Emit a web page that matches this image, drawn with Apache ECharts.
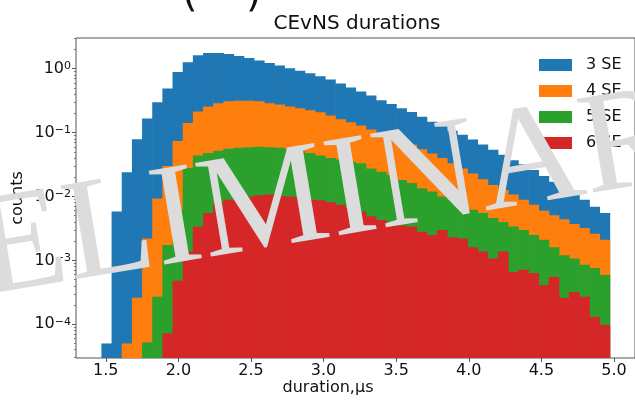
<!DOCTYPE html>
<html>
<head>
<meta charset="utf-8">
<script src="https://cdn.jsdelivr.net/npm/echarts@6/dist/echarts.min.js"></script>
<style>
  html, body { margin: 0; padding: 0; background: #fff; }
  #main { width: 635px; height: 400px; }
</style>
</head>
<body>
<div id="main"></div>
<script>
// histogram binning: 50 bins, 0.07 us wide, first edge at 1.47 us
const binStart = 1.47;
const binWidth = 0.07;
const xTicks = [1.5, 2.0, 2.5, 3.0, 3.5, 4.0, 4.5, 5.0];
const yTicks = [1e-4, 1e-3, 1e-2, 1e-1, 1];
const seriesNames = ['3 SE', '4 SE', '5 SE', '6 SE'];

const se3 = [
  5.0e-5, 5.8e-3, 0.024, 0.079, 0.166, 0.30, 0.49, 0.89, 1.26, 1.62,
  1.76, 1.76, 1.70, 1.58, 1.48, 1.35, 1.23, 1.12, 1.02, 0.93,
  0.85, 0.76, 0.68, 0.59, 0.51, 0.44, 0.38, 0.32, 0.28, 0.24,
  0.21, 0.178, 0.148, 0.129, 0.107, 0.093, 0.078, 0.065, 0.054, 0.045,
  0.037, 0.032, 0.026, 0.021, 0.017, 0.0135, 0.011, 0.0089, 0.0069, 0.0055
];
const se4 = [
  null, null, 5.0e-5, 2.6e-4, 2.2e-3, 9.3e-3, 0.030, 0.074, 0.141, 0.214,
  0.257, 0.288, 0.309, 0.316, 0.316, 0.309, 0.288, 0.275, 0.257, 0.240,
  0.224, 0.209, 0.186, 0.162, 0.145, 0.129, 0.112, 0.098, 0.087, 0.076,
  0.065, 0.055, 0.047, 0.040, 0.033, 0.0275, 0.0229, 0.0186, 0.0151, 0.0126,
  0.0107, 0.0089, 0.0074, 0.0060, 0.0051, 0.0044, 0.0037, 0.0032, 0.0026, 0.0021
];
const se5 = [
  null, null, null, null, 5.2e-5, 2.7e-4, 1.74e-3, 6.2e-3, 0.028, 0.044,
  0.048, 0.052, 0.056, 0.058, 0.059, 0.060, 0.059, 0.058, 0.055, 0.051,
  0.048, 0.044, 0.040, 0.038, 0.035, 0.033, 0.0275, 0.0245, 0.0219, 0.0182,
  0.0162, 0.0135, 0.0120, 0.0100, 0.0089, 0.0074, 0.0062, 0.0055, 0.0046, 0.0040,
  0.0034, 0.0030, 0.0025, 0.0021, 0.0016, 0.0012, 0.00107, 0.00085, 0.00076, 0.00059
];
const se6 = [
  null, null, null, null, null, null, 7.2e-5, 4.8e-4, 1.38e-3, 3.4e-3,
  5.5e-3, 7.9e-3, 8.9e-3, 9.5e-3, 0.0100, 0.0105, 0.0107, 0.0102, 0.0100, 0.0095,
  0.0089, 0.0087, 0.0081, 0.0074, 0.0066, 0.0058, 0.0049, 0.0043, 0.0038, 0.0035,
  0.0034, 0.0028, 0.0025, 0.0030, 0.0023, 0.0022, 0.0016, 0.00138, 0.00107, 0.00138,
  0.00066, 0.00071, 0.00063, 0.00041, 0.00055, 0.00026, 0.00032, 0.00027, 0.00013, 0.000098
];

const colors = ['#1f77b4', '#ff7f0e', '#2ca02c', '#d62728'];
const yMin = 2.96e-5, yMax = 3.03;

// minor log ticks 2..9 x 10^n
const yMinor = [];
for (let e = -5; e <= 0; e++) {
  for (let m = 2; m <= 9; m++) {
    const v = m * Math.pow(10, e);
    if (v > yMin && v < yMax) yMinor.push(v);
  }
}

function toBins(vals) {
  const out = [];
  vals.forEach((v, k) => {
    if (v != null) out.push([binStart + k * binWidth, binStart + (k + 1) * binWidth, v]);
  });
  return out;
}

function renderBin(params, api) {
  const p0 = api.coord([api.value(0), api.value(2)]);
  const p1 = api.coord([api.value(1), yMin]);
  return {
    type: 'rect',
    shape: { x: p0[0], y: p0[1], width: p1[0] - p0[0] + 0.6, height: p1[1] - p0[1] },
    style: { fill: api.visual('color') }
  };
}

const chart = echarts.init(document.getElementById('main'), null, { renderer: 'canvas' });
const font = 'DejaVu Sans';

const supStr = e => (e < 0 ? '\u2212' + (-e) : '' + e);

chart.setOption({
  animation: false,
  color: colors,
  textStyle: { fontFamily: font },
  grid: {
    left: 76, top: 38, width: 562, height: 320,
    show: true, borderColor: '#555', borderWidth: 1, backgroundColor: 'transparent'
  },
  legend: {
    data: seriesNames,
    orient: 'vertical',
    left: 534, top: 52,
    icon: 'rect',
    itemWidth: 33, itemHeight: 12, itemGap: 10,
    textStyle: { fontSize: 16, color: '#111', fontFamily: font, lineHeight: 12, padding: [0, 0, 0, 9] }
  },
  xAxis: {
    type: 'value', min: 1.295, max: 5.145,
    splitLine: { show: false },
    axisLine: { show: false },
    axisTick: { show: true, length: 4, customValues: xTicks, lineStyle: { color: '#555' } },
    axisLabel: {
      customValues: xTicks, margin: 5, fontSize: 16, color: '#111', fontFamily: font,
      formatter: v => v.toFixed(1)
    }
  },
  yAxis: [{
    type: 'log', logBase: 10, min: yMin, max: yMax,
    splitLine: { show: false },
    axisLine: { show: false },
    axisTick: { show: true, length: 4, customValues: yTicks, lineStyle: { color: '#555' } },
    axisLabel: {
      customValues: yTicks, margin: 5, color: '#111',
      formatter: v => '{b|10}{s|' + supStr(Math.round(Math.log10(v))) + '}',
      rich: {
        b: { fontSize: 16, fontFamily: font, color: '#111', lineHeight: 16 },
        s: { fontSize: 11, fontFamily: font, color: '#111', lineHeight: 11, verticalAlign: 'top' }
      }
    }
  }, {
    type: 'log', logBase: 10, min: yMin, max: yMax, position: 'left',
    splitLine: { show: false },
    axisLine: { show: false },
    axisLabel: { show: false },
    axisTick: { show: true, length: 2, customValues: yMinor, lineStyle: { color: '#777' } }
  }],
  series: [se3, se4, se5, se6].map((vals, i) => ({
    name: seriesNames[i],
    type: 'custom',
    renderItem: renderBin,
    clip: true,
    itemStyle: { color: colors[i] },
    encode: { x: [0, 1], y: 2 },
    data: toBins(vals)
  })),
  graphic: [
    { type: 'text', left: 182, top: -24, style: { text: '(', fontSize: 40, fontFamily: font, fill: '#111' } },
    { type: 'text', left: 246, top: -24, style: { text: ')', fontSize: 40, fontFamily: font, fill: '#111' } },
    { type: 'text', x: 357, y: 24, style: { text: 'CEvNS durations', fontSize: 20, fontFamily: font, fill: '#111', align: 'center', verticalAlign: 'middle' } },
    { type: 'text', x: 328, y: 388, style: { text: 'duration,μs', fontSize: 16, fontFamily: font, fill: '#111', align: 'center', verticalAlign: 'middle' } },
    { type: 'text', x: 18, y: 198, rotation: Math.PI / 2, style: { text: 'counts', fontSize: 16, fontFamily: font, fill: '#111', align: 'center', verticalAlign: 'middle' } },
    { type: 'text', x: 288, y: 205, z: 100, rotation: 9.5 * Math.PI / 180,
      style: { text: 'PRELIMINARY', fontSize: 145, fontFamily: 'Liberation Serif', fill: '#dcdcdc', align: 'center', verticalAlign: 'middle' } }
  ]
});
</script>
</body>
</html>
